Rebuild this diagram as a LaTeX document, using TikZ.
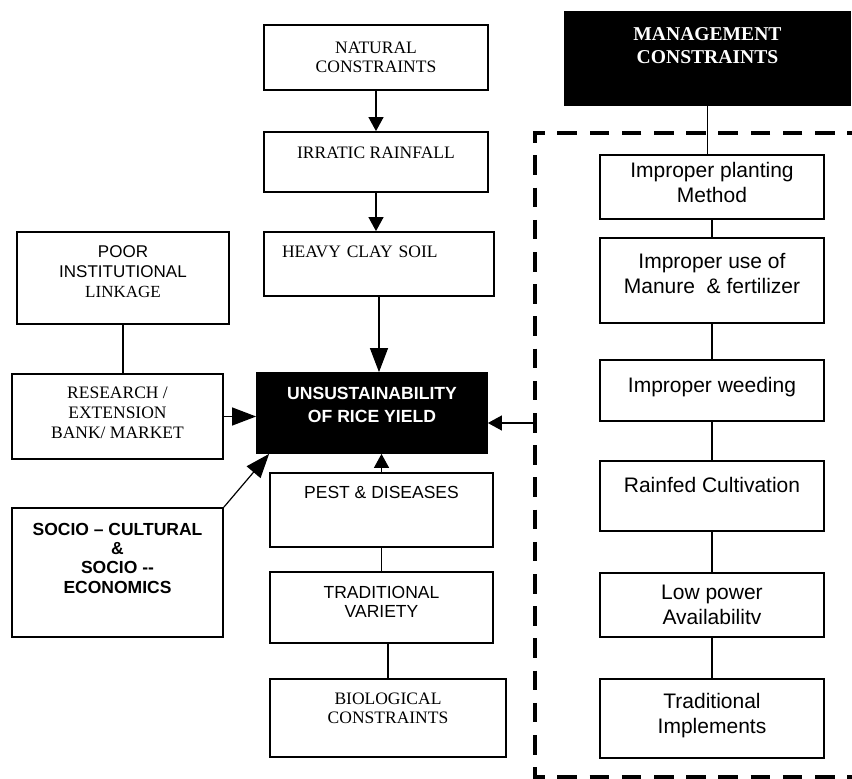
\documentclass[tikz,border=0pt]{standalone}
\usepackage{fontspec}
\setmainfont{Liberation Serif}
\setsansfont{Liberation Sans}
\usetikzlibrary{arrows.meta}

\begin{document}
\begin{tikzpicture}[x=1pt,y=-1pt,
  box/.style={draw, line width=1.8pt, inner sep=0pt, align=center},
  rm/.style={font=\fontsize{17.5}{19}\selectfont},
  sf/.style={font=\sffamily\fontsize{17.5}{19}\selectfont},
  sfbig/.style={font=\sffamily\fontsize{21}{25}\selectfont},
  dark/.style={box, fill=black, text=white},
  link/.style={line width=1.2pt},
  arr/.style={link, -{Triangle[length=14pt, width=15pt]}},
  bigarr/.style={link, -{Triangle[length=24pt, width=18pt]}},
  dashbox/.style={line width=3.6pt, dash pattern=on 19.5pt off 12.7pt, dash phase=6.75pt}]

  \useasboundingbox (0,0) rectangle (852,779);

  % centre column
  \node[box, rm, minimum width=224, minimum height=65] (natural) at (376,57.5) {NATURAL\\CONSTRAINTS};
  \node[box, rm, minimum width=224, minimum height=60, text depth=19pt] (rainfall) at (376,162) {IRRATIC RAINFALL};
  \node[box, rm, minimum width=230, minimum height=64, text width=194, align=left, text depth=25pt] (soil) at (379,264) {HEAVY CLAY SOIL};
  \node[dark, minimum width=230, minimum height=80, text depth=17pt, font=\sffamily\bfseries\fontsize{17.6}{23}\selectfont] (yield) at (372,413) {UNSUSTAINABILITY\\OF RICE YIELD};
  \node[box, sf, minimum width=223, minimum height=74, text depth=36pt] (pest) at (381.5,510) {PEST \& DISEASES};
  \node[box, sf, minimum width=223, minimum height=71, text depth=12pt] (variety) at (381.5,607.5) {TRADITIONAL\\VARIETY};
  \node[box, rm, minimum width=236, minimum height=78, text depth=20pt] (biological) at (388,718) {BIOLOGICAL\\CONSTRAINTS};

  % left column
  \node[box, minimum width=212, minimum height=92, text depth=12pt, font=\fontsize{17}{20}\selectfont] (institution) at (123,278) {{\sffamily POOR}\\{\sffamily INSTITUTIONAL}\\LINKAGE};
  \node[box, minimum width=211, minimum height=85, text depth=8pt, font=\fontsize{17.5}{20}\selectfont] (research) at (117.5,416.5) {RESEARCH /\\EXTENSION\\BANK/ MARKET};
  \node[box, minimum width=211, minimum height=129, text depth=29pt, font=\sffamily\bfseries\fontsize{17.5}{19.3}\selectfont] (socio) at (117.5,572.5) {SOCIO – CULTURAL\\\&\\SOCIO -{}-\\ECONOMICS};

  % management column
  \node[dark, minimum width=285, minimum height=93, text depth=26.6pt, font=\bfseries\fontsize{19.6}{23}\selectfont] (mgmt) at (707.5,58.5) {MANAGEMENT\\CONSTRAINTS};
  \node[box, sfbig, minimum width=224, minimum height=64, text depth=10pt] (planting) at (712,187) {Improper planting\\Method};
  \node[box, sfbig, minimum width=224, minimum height=85, text depth=15pt] (manure) at (712,280.5) {Improper use of\\Manure~~\& fertilizer};
  \node[box, sfbig, minimum width=224, minimum height=61, text depth=12pt] (weeding) at (712,390.5) {Improper weeding};
  \node[box, sfbig, minimum width=224, minimum height=70, text depth=23pt] (rainfed) at (712,496) {Rainfed Cultivation};
  \node[box, sfbig, minimum width=224, minimum height=64] (power) at (712,605) {Low power\\Availabilitv};
  \node[box, sfbig, minimum width=224, minimum height=79, text depth=11pt] (implements) at (712,718.5) {Traditional\\Implements};

  \draw[dashbox] (860,133) -- (535,133) -- (535,777) -- (860,777);
  \coordinate (dashleft) at (535,423);

  \draw[arr] (natural) -- (rainfall);
  \draw[arr] (rainfall) -- (rainfall.south |- soil.north);
  \draw[bigarr] (soil.south) -- (soil.south |- yield.north);
  \draw[arr] (pest.north) -- (pest.north |- yield.south);
  \draw[link] (pest) -- (variety);
  \draw[link] (biological.north) -- (biological.north |- variety.south);
  \draw[link] (institution.south) -- (institution.south |- research.north);
  \draw[bigarr] (research.east) -- (research.east -| yield.west);
  \draw[bigarr] (socio.north east) -- ([xshift=13pt]yield.south west);
  \draw[arr] (dashleft) -- (dashleft -| yield.east);
  \draw[link] (mgmt.south) -- (mgmt.south |- planting.north);
  \draw[link] (planting) -- (manure);
  \draw[link] (manure) -- (weeding);
  \draw[link] (weeding) -- (rainfed);
  \draw[link] (rainfed) -- (power);
  \draw[link] (power) -- (implements);
\end{tikzpicture}
\end{document}
